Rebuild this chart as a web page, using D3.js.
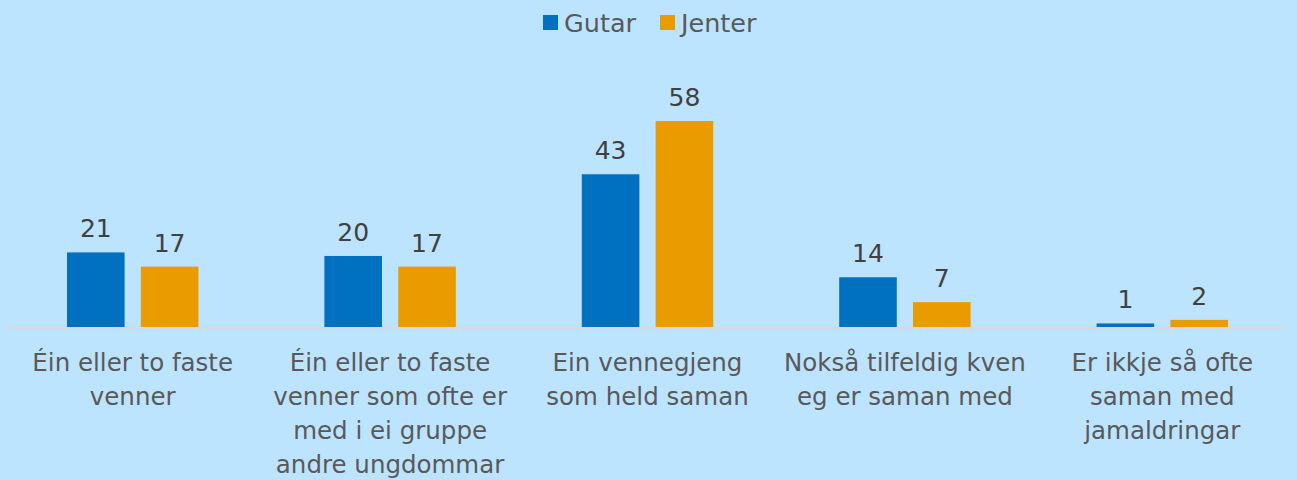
<!doctype html>
<meta charset="utf-8">
<style>
body { margin: 0; background: #bde4fe; }
svg { display: block; font-family: "DejaVu Sans", "Liberation Sans", Arial, sans-serif; }
.val { text-anchor: middle; font-size: 25px; fill: #404040; }
.cat { text-anchor: middle; font-size: 24.5px; fill: #595959; }
.leg { font-size: 25.5px; fill: #595959; }
</style>
<svg id="chart" width="1297" height="480"></svg>
<script src="https://cdn.jsdelivr.net/npm/d3@7"></script>
<script>
const categories = [
  ["Éin eller to faste", "venner"],
  ["Éin eller to faste", "venner som ofte er", "med i ei gruppe", "andre ungdommar"],
  ["Ein vennegjeng", "som held saman"],
  ["Nokså tilfeldig kven", "eg er saman med"],
  ["Er ikkje så ofte", "saman med", "jamaldringar"]
];
const seriesNames = ["Gutar", "Jenter"];
const gutar = [21, 20, 43, 14, 1];
const jenter = [17, 17, 58, 7, 2];
const colours = ["#0070c0", "#e99b00"];

const svg = d3.select("#chart");
const plotLeft = 4, plotRight = 1291, base = 327, plotTop = 121;

const x = d3.scaleBand()
  .domain(d3.range(categories.length))
  .range([plotLeft, plotRight]);

const inner = d3.scaleBand()
  .domain(seriesNames)
  .range([63, x.bandwidth() - 63])
  .paddingInner(0.22);

const y = d3.scaleLinear()
  .domain([0, 58])
  .range([base, plotTop]);

// baseline
svg.append("line")
  .attr("x1", plotLeft).attr("x2", 1287)
  .attr("y1", base + 1).attr("y2", base + 1)
  .attr("stroke", "#d9d9d9")
  .attr("stroke-width", 2);

const series = [gutar, jenter];
series.forEach((vals, s) => {
  const g = svg.append("g");
  g.selectAll("rect")
    .data(vals)
    .enter()
    .append("rect")
    .attr("x", (d, i) => x(i) + inner(seriesNames[s]))
    .attr("width", inner.bandwidth())
    .attr("y", d => y(d))
    .attr("height", d => base - y(d))
    .attr("fill", colours[s]);

  g.selectAll("text")
    .data(vals)
    .enter()
    .append("text")
    .attr("class", "val")
    .attr("x", (d, i) => x(i) + inner(seriesNames[s]) + inner.bandwidth() / 2)
    .attr("y", d => y(d) - 15)
    .text(d => d);
});

// category labels
const cats = svg.append("g");
categories.forEach((lines, i) => {
  const t = cats.append("text")
    .attr("class", "cat")
    .attr("x", x(i) + x.bandwidth() / 2)
    .attr("y", 371);
  lines.forEach((l, j) => {
    t.append("tspan")
      .attr("x", x(i) + x.bandwidth() / 2)
      .attr("dy", j === 0 ? 0 : 34)
      .text(l);
  });
});

// legend
const legendX = [543, 660];
seriesNames.forEach((name, s) => {
  svg.append("rect")
    .attr("x", legendX[s]).attr("y", 15)
    .attr("width", 15).attr("height", 15)
    .attr("fill", colours[s]);
  svg.append("text")
    .attr("class", "leg")
    .attr("x", legendX[s] + 21)
    .attr("y", 32)
    .text(name);
});
</script>
